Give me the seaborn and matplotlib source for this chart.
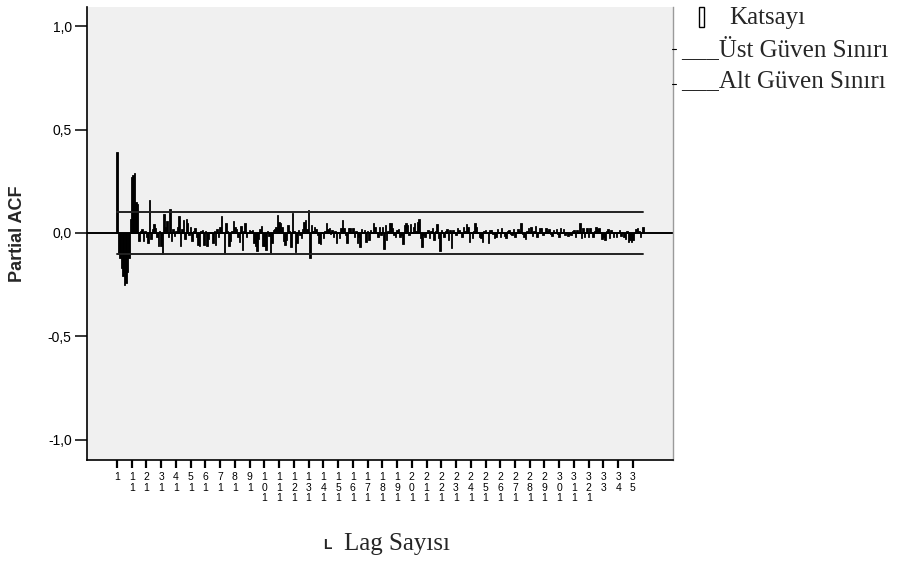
import numpy as np
import pandas as pd
import matplotlib
matplotlib.use("Agg")
import matplotlib.pyplot as plt
import seaborn as sns

# Partial autocorrelation coefficients, lags 1..358
pacf = [
    0.39, -0.10, -0.12, -0.17, -0.21, -0.25, -0.24, -0.19, -0.12, 0.07,
    0.27, 0.28, 0.29, 0.15, 0.14, -0.04, 0.01, 0.02, -0.04, 0.01,
    -0.02, -0.05, 0.16, -0.03, 0.02, 0.045, 0.025, -0.02, -0.065, 0.01,
    -0.065, -0.10, 0.094, 0.03, 0.06, -0.02, 0.116, -0.04, 0.02, -0.016,
    0.01, 0.03, 0.08, -0.065, 0.02, 0.065, -0.03, 0.068, 0.048, -0.01,
    0.03, -0.04, 0.01, 0.024, -0.02, -0.06, -0.065, 0.01, 0.016, -0.056,
    0.01, -0.065, -0.03, 0.005, 0.0, -0.048, 0.01, -0.06, 0.02, -0.02,
    0.03, 0.084, 0.005, -0.10, 0.05, 0.01, -0.065, -0.04, 0.01, 0.06,
    0.03, 0.02, -0.02, -0.045, 0.035, -0.08, 0.01, 0.048, -0.02, 0.0,
    0.016, 0.01, 0.016, -0.048, -0.065, -0.087, -0.03, 0.02, 0.035, -0.065,
    -0.065, -0.08, 0.01, -0.016, -0.095, -0.05, 0.015, 0.02, 0.03, 0.087,
    0.055, 0.047, 0.03, -0.04, -0.058, -0.034, 0.04, 0.01, -0.066, 0.098,
    0.01, -0.09, -0.05, 0.015, -0.01, -0.026, 0.02, 0.055, 0.063, 0.02,
    0.11, -0.12, 0.04, 0.01, 0.03, 0.018, -0.01, -0.05, -0.053, 0.005,
    -0.026, 0.01, 0.05, 0.018, 0.023, -0.005, 0.015, -0.018, 0.01, -0.05,
    0.005, -0.026, 0.023, 0.063, 0.023, -0.01, -0.05, 0.023, 0.026, 0.005,
    0.023, -0.018, 0.01, -0.047, -0.02, -0.066, 0.018, 0.005, 0.015, -0.042,
    0.01, -0.034, 0.015, 0.005, 0.047, 0.03, 0.0, -0.018, 0.03, -0.01,
    0.03, -0.077, 0.039, -0.034, 0.01, 0.047, 0.047, 0.023, -0.01, -0.018,
    0.015, 0.018, -0.018, -0.01, -0.055, 0.039, 0.05, 0.039, -0.01, 0.044,
    0.005, 0.03, 0.047, 0.01, 0.055, 0.068, -0.026, -0.066, -0.01, -0.018,
    0.005, 0.015, -0.026, 0.01, 0.023, -0.034, 0.01, 0.042, -0.026, -0.085,
    0.015, 0.005, -0.018, 0.01, 0.018, -0.034, 0.015, -0.074, 0.015, 0.005,
    -0.01, 0.023, 0.015, 0.005, -0.018, 0.03, 0.01, 0.042, 0.03, -0.042,
    0.005, -0.026, 0.01, 0.047, 0.03, 0.005, -0.018, -0.026, -0.042, 0.01,
    0.015, 0.005, -0.05, 0.015, 0.015, -0.005, -0.026, -0.018, 0.018, 0.005,
    -0.018, 0.023, 0.005, -0.015, -0.026, 0.01, 0.015, -0.005, -0.01, 0.02,
    -0.018, 0.005, 0.018, 0.01, 0.047, -0.005, -0.018, -0.03, 0.01, 0.023,
    0.005, 0.03, -0.015, 0.01, 0.034, -0.018, 0.005, 0.023, 0.026, -0.01,
    0.005, 0.023, 0.01, 0.018, -0.005, -0.015, 0.015, 0.005, 0.018, -0.005,
    -0.018, 0.023, 0.005, 0.018, -0.01, 0.005, -0.015, -0.005, -0.01, 0.01,
    0.015, -0.018, 0.015, 0.005, 0.05, -0.026, 0.023, -0.018, 0.005, 0.023,
    -0.02, 0.023, 0.005, -0.018, 0.01, 0.03, 0.018, 0.023, 0.005, -0.03,
    -0.02, -0.034, 0.01, 0.018, -0.026, 0.015, 0.005, -0.018, 0.005, -0.02,
    0.005, 0.015, -0.015, 0.005, -0.018, -0.03, 0.01, -0.042, -0.034, -0.045,
    -0.034, 0.005, 0.018, 0.023, 0.01, -0.02, 0.005, 0.03,
]
lags = list(range(1, len(pacf) + 1))

# 95% confidence limits (1.96 / sqrt(365))
upper_limit = 0.1026
lower_limit = -0.1026

# Lag axis ticks and their (vertically stacked) labels
tick_lags = list(range(1, 352, 10))
tick_labels = [str(v) for v in tick_lags[:33]] + ["33", "34", "35"]

y_ticks = [-1.0, -0.5, 0.0, 0.5, 1.0]
y_tick_labels = ["-1,0", "-0,5", "0,0", "0,5", "1,0"]

df = pd.DataFrame({"lag": lags, "pacf": pacf})
limits = pd.DataFrame({
    "lag": [lags[0], lags[-1], lags[0], lags[-1]],
    "value": [upper_limit, upper_limit, lower_limit, lower_limit],
    "bound": ["Üst", "Üst", "Alt", "Alt"],
})

sns.set_style("white")
plt.rcParams["font.family"] = ["Liberation Sans", "DejaVu Sans"]

fig = plt.figure(figsize=(9.08, 5.62), dpi=100)
ax = fig.add_axes([87 / 908, 1 - 460 / 562, (673 - 87) / 908, (460 - 7) / 562])
ax.set_facecolor("#F0F0F0")

sns.barplot(data=df, x="lag", y="pacf", native_scale=True, color="black",
            saturation=1, width=1.0, edgecolor="black", linewidth=0.6, ax=ax)
sns.lineplot(data=limits, x="lag", y="value", units="bound", estimator=None,
             color="#222222", linewidth=1.4, ax=ax, legend=False)
ax.axhline(0, color="black", linewidth=1.4, zorder=1)

ax.set_xlim(-19.35, 378.2)
ax.set_ylim(-1.099, 1.094)

ax.set_yticks(y_ticks)
ax.set_yticklabels(y_tick_labels, fontsize=10)
ax.set_xticks(tick_lags)
ax.set_xticklabels(["\n".join(s) for s in tick_labels], fontsize=7.5,
                   linespacing=1.05, va="top")

ax.tick_params(axis="y", direction="out", length=9, width=1.1, pad=2,
               left=True, colors="black")
ax.tick_params(axis="x", direction="out", length=6, width=1.6, pad=3,
               bottom=True, colors="black")

for side in ("left", "bottom"):
    ax.spines[side].set_color("black")
    ax.spines[side].set_linewidth(1.2)
ax.spines["top"].set_visible(False)
ax.spines["right"].set_color("#9A9A9A")
ax.spines["right"].set_linewidth(1.0)

ax.set_xlabel("")
ax.set_ylabel("Partial ACF", fontsize=13, fontweight="bold", labelpad=16)

# Axis title for the lag axis
fig.text(323 / 908, 1 - 545 / 562, "L", fontsize=10, fontweight="bold",
         ha="left", va="center")
fig.text(344 / 908, 1 - 544 / 562, "Lag Sayısı", fontsize=18,
         family="Liberation Serif", ha="left", va="center")

# Legend block
serif = "Liberation Serif"
fig.add_artist(plt.Rectangle((699 / 908, 1 - 27 / 562), 5 / 908, 20 / 562,
                             transform=fig.transFigure, facecolor="white",
                             edgecolor="black", linewidth=1.0))
fig.text(729 / 908, 1 - 18 / 562, "Katsayı", fontsize=18, family=serif,
         ha="left", va="center")
fig.text(681 / 908, 1 - 49 / 562, "___Üst Güven Sınırı", fontsize=18,
         family=serif, ha="left", va="center")
fig.text(681 / 908, 1 - 81 / 562, "___Alt Güven Sınırı", fontsize=18,
         family=serif, ha="left", va="center")
for yy in (49, 84):
    fig.add_artist(plt.Line2D([672 / 908, 676 / 908], [1 - yy / 562, 1 - yy / 562],
                              transform=fig.transFigure, color="black",
                              linewidth=0.8))

fig.savefig("out.png", dpi=100)
